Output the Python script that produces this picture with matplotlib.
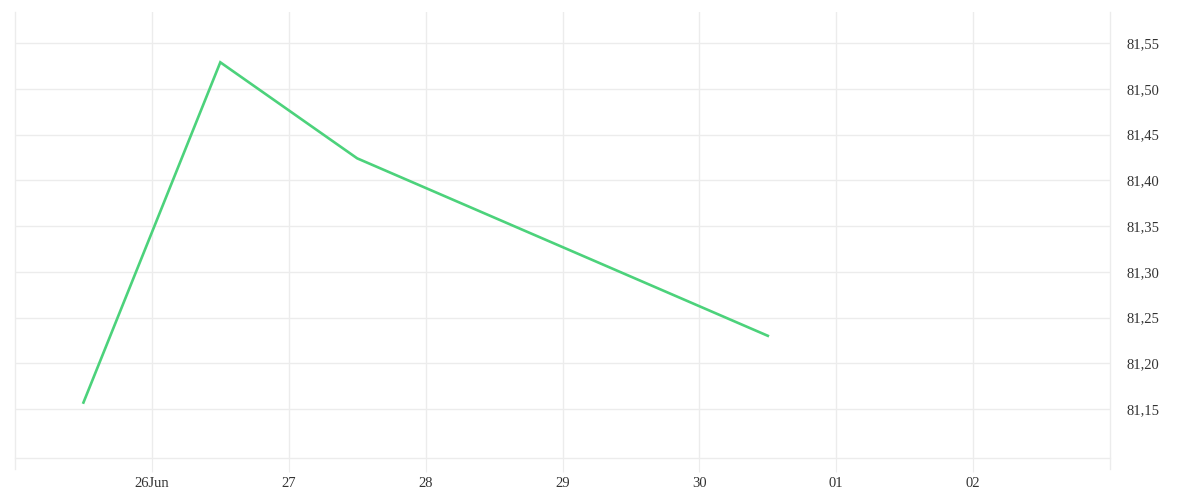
import matplotlib
matplotlib.use("Agg")
import matplotlib.pyplot as plt
from datetime import datetime

# data
dates = ["2023-06-25 12:00", "2023-06-26 12:00", "2023-06-27 12:00", "2023-06-30 12:00"]
values = [81.157, 81.529, 81.424, 81.230]

tick_dates = ["2023-06-26", "2023-06-27", "2023-06-28", "2023-06-29",
              "2023-06-30", "2023-07-01", "2023-07-02"]
tick_labels = ["26Jun", "27", "28", "29", "30", "01", "02"]
y_ticks = [81.15, 81.20, 81.25, 81.30, 81.35, 81.40, 81.45, 81.50, 81.55]

grid_c = "#ececec"
text_c = "#333333"


def main():
    x = [datetime.strptime(d, "%Y-%m-%d %H:%M") for d in dates]
    xt = [datetime.strptime(d, "%Y-%m-%d") for d in tick_dates]

    fig = plt.figure(figsize=(12, 5), dpi=100)
    ax = fig.add_axes([15 / 1200, 1 - 458 / 500, 1095 / 1200, 446 / 500])

    ax.plot(x, values, color="#4cd27b", linewidth=1.9, solid_joinstyle="miter")

    ax.set_xlim(datetime(2023, 6, 25), datetime(2023, 7, 3))
    ax.set_ylim(81.0964, 81.584)

    ax.set_xticks(xt)
    ax.set_xticklabels(tick_labels)
    ax.set_yticks(y_ticks)
    ax.set_yticklabels([f"{v:.2f}".replace(".", ",") for v in y_ticks])
    ax.yaxis.tick_right()

    ax.grid(True, color=grid_c, linewidth=1)
    ax.set_axisbelow(True)
    ax.spines["top"].set_visible(False)
    for side in ["left", "right", "bottom"]:
        ax.spines[side].set_color(grid_c)
        ax.spines[side].set_linewidth(1)
    ax.spines["left"].set_bounds(81.0964 - 0.0115, 81.584)
    ax.spines["right"].set_bounds(81.0964 - 0.0115, 81.584)

    ax.tick_params(axis="x", length=10, color=grid_c, pad=4,
                   labelsize=10.5, labelcolor=text_c)
    ax.tick_params(axis="y", length=0, pad=12, labelsize=10.5, labelcolor=text_c)
    for lab in ax.get_xticklabels() + ax.get_yticklabels():
        lab.set_family("Liberation Serif")

    fig.savefig("out.png", dpi=100, facecolor="white")


if __name__ == '__main__':
    main()
